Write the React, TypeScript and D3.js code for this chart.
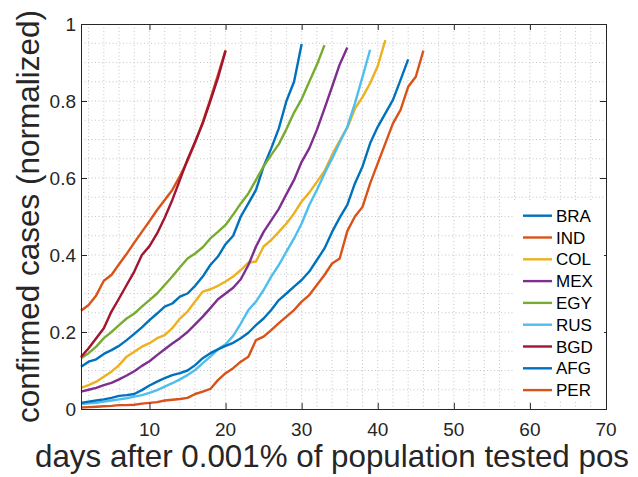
import React from "react";
import * as d3 from "d3";

const countries = ["BRA", "IND", "COL", "MEX", "EGY", "RUS", "BGD", "AFG", "PER"];
const colors = ["#0072BD", "#D95319", "#EDB120", "#7E2F8E", "#77AC30", "#4DBEEE", "#A2142F", "#0072BD", "#D95319"];

const BRA = [0.11, 0.123, 0.129, 0.143, 0.153, 0.164, 0.179, 0.195, 0.212, 0.231, 0.248, 0.266, 0.274, 0.292, 0.3, 0.32, 0.344, 0.374, 0.396, 0.428, 0.45, 0.5, 0.534, 0.569, 0.63, 0.677, 0.729, 0.8, 0.85, 0.948];
const IND = [0.255, 0.27, 0.295, 0.333, 0.348, 0.376, 0.403, 0.432, 0.46, 0.488, 0.517, 0.543, 0.569, 0.605, 0.645, 0.692, 0.745, 0.805, 0.868, 0.932];
const COL = [0.055, 0.062, 0.071, 0.084, 0.097, 0.114, 0.136, 0.149, 0.162, 0.171, 0.184, 0.192, 0.21, 0.235, 0.253, 0.279, 0.305, 0.311, 0.32, 0.331, 0.344, 0.361, 0.38, 0.383, 0.422, 0.439, 0.46, 0.482, 0.508, 0.539, 0.562, 0.59, 0.618, 0.66, 0.697, 0.73, 0.78, 0.81, 0.846, 0.891, 0.958];
const MEX = [0.045, 0.05, 0.055, 0.062, 0.068, 0.077, 0.087, 0.098, 0.112, 0.124, 0.14, 0.155, 0.17, 0.184, 0.2, 0.22, 0.24, 0.262, 0.285, 0.3, 0.315, 0.337, 0.374, 0.422, 0.46, 0.49, 0.52, 0.558, 0.595, 0.642, 0.677, 0.725, 0.78, 0.837, 0.895, 0.939];
const EGY = [0.132, 0.145, 0.162, 0.184, 0.2, 0.218, 0.235, 0.248, 0.266, 0.283, 0.3, 0.322, 0.344, 0.368, 0.391, 0.404, 0.42, 0.443, 0.46, 0.478, 0.505, 0.534, 0.56, 0.595, 0.63, 0.66, 0.688, 0.727, 0.77, 0.805, 0.85, 0.894, 0.945];
const RUS = [0.013, 0.015, 0.016, 0.019, 0.022, 0.025, 0.028, 0.032, 0.036, 0.042, 0.049, 0.058, 0.067, 0.077, 0.088, 0.101, 0.119, 0.136, 0.155, 0.168, 0.19, 0.222, 0.257, 0.279, 0.309, 0.344, 0.374, 0.409, 0.443, 0.482, 0.53, 0.569, 0.612, 0.651, 0.692, 0.733, 0.794, 0.863, 0.933];
const BGD = [0.135, 0.158, 0.184, 0.21, 0.253, 0.287, 0.322, 0.357, 0.4, 0.423, 0.456, 0.497, 0.543, 0.595, 0.648, 0.694, 0.742, 0.8, 0.86, 0.93];
const AFG = [0.016, 0.019, 0.022, 0.025, 0.029, 0.034, 0.036, 0.039, 0.049, 0.061, 0.071, 0.08, 0.088, 0.093, 0.1, 0.114, 0.132, 0.145, 0.155, 0.164, 0.172, 0.184, 0.198, 0.218, 0.235, 0.257, 0.283, 0.3, 0.318, 0.335, 0.357, 0.387, 0.417, 0.46, 0.497, 0.53, 0.586, 0.63, 0.69, 0.733, 0.768, 0.803, 0.855, 0.908];
const PER = [0.004, 0.005, 0.006, 0.007, 0.008, 0.01, 0.01, 0.011, 0.014, 0.016, 0.018, 0.022, 0.024, 0.026, 0.029, 0.039, 0.045, 0.052, 0.075, 0.093, 0.106, 0.123, 0.136, 0.179, 0.188, 0.205, 0.223, 0.24, 0.257, 0.279, 0.296, 0.322, 0.348, 0.378, 0.391, 0.462, 0.5, 0.525, 0.586, 0.638, 0.69, 0.742, 0.777, 0.837, 0.863, 0.931];

const seriesValues = [BRA, IND, COL, MEX, EGY, RUS, BGD, AFG, PER];

const xTicks = [10, 20, 30, 40, 50, 60, 70];
const xMinor = [2, 4, 6, 8, 12, 14, 16, 18, 22, 24, 26, 28, 32, 34, 36, 38, 42, 44, 46, 48, 52, 54, 56, 58, 62, 64, 66, 68];
const yTicks = [0, 0.2, 0.4, 0.6, 0.8, 1];
const yTickLabels = ["0", "0.2", "0.4", "0.6", "0.8", "1"];
const yGrid = [0.05, 0.1, 0.15, 0.2, 0.25, 0.3, 0.35, 0.4, 0.45, 0.5, 0.55, 0.6, 0.65, 0.7, 0.75, 0.8, 0.85, 0.9, 0.95];

const xLabel = "days after 0.001% of population tested pos";
const yLabel = "confirmed cases (normalized)";

export default function App() {
  const W = 638, H = 477;
  const L = 81, R = 606, T = 24, B = 409;
  const x = d3.scaleLinear().domain([1, 70]).range([L, R]);
  const y = d3.scaleLinear().domain([0, 1]).range([B, T]);
  const line = d3.line<number>().x((_, i) => x(i + 1)).y((v) => y(v));
  const axisColor = "#262626";
  const gridColor = "#b8b8b8";
  const font = "'Liberation Sans', Arial, Helvetica, sans-serif";
  const tick = 6;
  const legX = 523, legY0 = 215.7, legDy = 21.8;

  return (
    <svg width={W} height={H} style={{ position: "absolute", left: 0, top: 0, background: "#fff" }} fontFamily={font}>
      <rect x={0} y={0} width={W} height={H} fill="#fff" />
      <g stroke={gridColor} strokeWidth={0.8} strokeDasharray="1,2.5">
        {[...xMinor, ...xTicks.slice(0, -1)].map((d) => (
          <line key={"gx" + d} x1={x(d)} x2={x(d)} y1={T} y2={B} />
        ))}
        {yGrid.map((d) => (
          <line key={"gy" + d} x1={L} x2={R} y1={y(d)} y2={y(d)} />
        ))}
      </g>
      <g fill="none" strokeWidth={2.4} strokeLinejoin="round">
        {seriesValues.map((vals, i) => (
          <path key={countries[i]} d={line(vals) || ""} stroke={colors[i]} />
        ))}
      </g>
      <rect x={L + 0.5} y={T + 0.5} width={R - L} height={B - T} fill="none" stroke={axisColor} strokeWidth={1} />
      <g stroke={axisColor} strokeWidth={1}>
        {xTicks.map((d) => (
          <g key={"xt" + d}>
            <line x1={x(d) + 0.5} x2={x(d) + 0.5} y1={B} y2={B - tick} />
            <line x1={x(d) + 0.5} x2={x(d) + 0.5} y1={T} y2={T + tick} />
          </g>
        ))}
        {yTicks.map((d) => (
          <g key={"yt" + d}>
            <line x1={L} x2={L + tick} y1={y(d) + 0.5} y2={y(d) + 0.5} />
            <line x1={R} x2={R - tick} y1={y(d) + 0.5} y2={y(d) + 0.5} />
          </g>
        ))}
      </g>
      <g fill={axisColor} fontSize={19}>
        {xTicks.map((d) => (
          <text key={"xl" + d} x={x(d)} y={B + 27} textAnchor="middle">{d}</text>
        ))}
        {yTicks.map((d, i) => (
          <text key={"yl" + d} x={L - 5} y={y(d) + 7} textAnchor="end">{yTickLabels[i]}</text>
        ))}
      </g>
      <text x={35} y={467} fontSize={30.5} textLength={594} lengthAdjust="spacingAndGlyphs" fill={axisColor}>{xLabel}</text>
      <text transform={`translate(39,${(T + B) / 2}) rotate(-90)`} textAnchor="middle" fontSize={31.5} fill={axisColor}>{yLabel}</text>
      <rect x={514} y={202} width={90} height={199} fill="#fff" />
      <g fontSize={17}>
        {countries.map((c, i) => (
          <g key={"lg" + c}>
            <line x1={legX} x2={legX + 29} y1={legY0 + i * legDy} y2={legY0 + i * legDy} stroke={colors[i]} strokeWidth={2.4} />
            <text x={556} y={legY0 + i * legDy + 6} fill="#000">{c}</text>
          </g>
        ))}
      </g>
    </svg>
  );
}
